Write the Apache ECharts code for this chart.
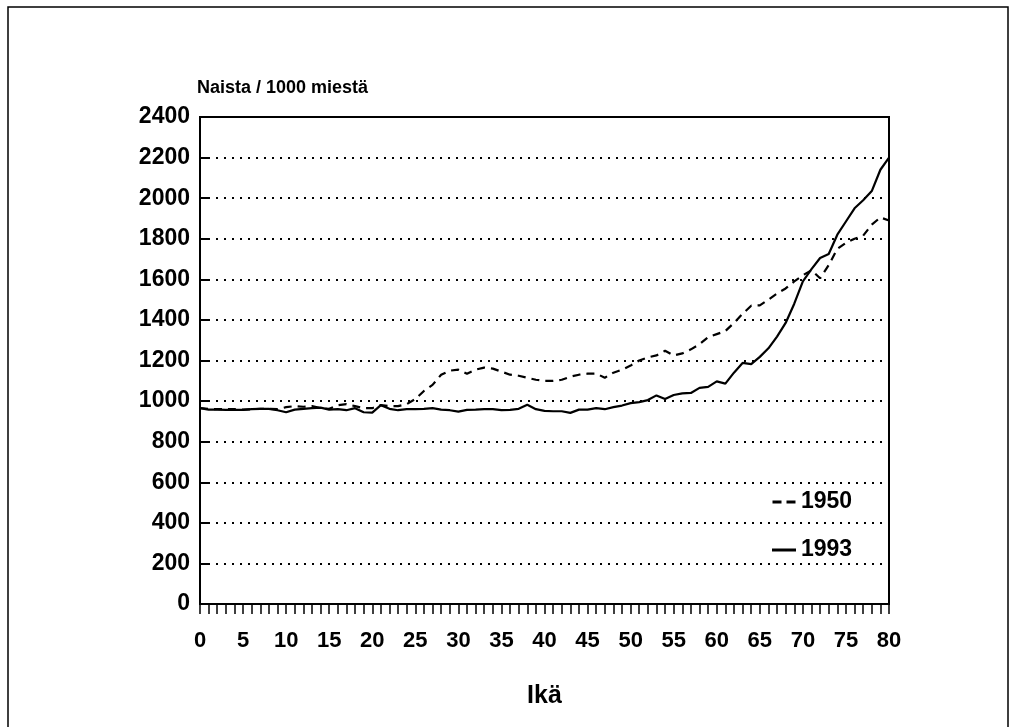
<!DOCTYPE html>
<html lang="fi" style="height: 100%">
<head>
    <meta charset="UTF-8">
    <script src="https://cdn.jsdelivr.net/npm/echarts@6/dist/echarts.min.js"></script>
</head>
<body style="height: 100%; margin: 0; background: #fff">
<div id="container" style="position: absolute; width: 1018px; height: 727px"></div>
<script>
    // ikä 0..80
    var ages = [];
    for (var i = 0; i <= 80; i++) ages.push(i);

    var years = ['1950', '1993'];

    // naisia / 1000 miestä, 1950
    var v1950 = [
        965, 962, 960, 960, 960, 958, 960, 962, 962, 960,
        970, 975, 972, 975, 965, 962, 980, 985, 975, 965,
        965, 980, 975, 975, 985, 1010, 1050, 1080, 1130, 1150,
        1155, 1135, 1155, 1165, 1160, 1145, 1130, 1125, 1115, 1105,
        1100, 1100, 1105, 1120, 1130, 1135, 1136, 1115, 1140, 1155,
        1175, 1200, 1215, 1225, 1248, 1225, 1235, 1255, 1280, 1315,
        1330, 1345, 1385, 1430, 1470, 1472, 1500, 1530, 1555, 1590,
        1620, 1645, 1605, 1670, 1750, 1780, 1800, 1815, 1870, 1905,
        1890
    ];
    // naisia / 1000 miestä, 1993
    var v1993 = [
        965, 958, 958, 957, 957, 957, 960, 962, 962, 955,
        945, 958, 962, 965, 968, 958, 960, 955, 965, 945,
        943, 980, 962, 955, 960, 960, 962, 965, 958, 955,
        948, 957, 958, 960, 960, 955, 957, 962, 982, 960,
        952, 950, 950, 942, 958, 958, 965, 960, 970, 978,
        990, 995, 1005, 1028, 1010, 1030, 1038, 1040, 1065, 1070,
        1097, 1086, 1140, 1188, 1182, 1218, 1260, 1318, 1385, 1480,
        1590, 1650, 1705, 1725, 1820, 1885, 1950, 1990, 2035, 2140,
        2200
    ];

    function pairs(vals) {
        return ages.map(function (a, k) { return [a, vals[k]]; });
    }

    var font = '"Liberation Sans", Arial, sans-serif';
    var myChart = echarts.init(document.getElementById('container'), null, {renderer: 'canvas'});

    var option = {
        backgroundColor: '#fff',
        animation: false,
        textStyle: {fontFamily: font, color: '#000'},
        graphic: [{
            type: 'rect',
            shape: {x: 8, y: 7, width: 1000, height: 760},
            style: {fill: 'none', stroke: '#000', lineWidth: 1.5},
            z: -1
        }],
        grid: {
            left: 200, right: 129, top: 117, bottom: 123,
            show: true, borderColor: '#000', borderWidth: 2
        },
        legend: {
            orient: 'vertical',
            left: 767, top: 484,
            itemWidth: 24, itemHeight: 3, itemGap: 22,
            data: [
                {name: years[0], icon: 'path://M0,0H9V3H0Z M14,0H23V3H14Z'},
                {name: years[1], icon: 'path://M0,0H24V3H0Z'}
            ],
            textStyle: {fontFamily: font, fontSize: 23, fontWeight: 'bold', color: '#000', lineHeight: 26}
        },
        xAxis: {
            type: 'value',
            min: 0, max: 80, interval: 5,
            name: 'Ikä',
            nameLocation: 'middle',
            nameGap: 80,
            nameTextStyle: {fontFamily: font, fontSize: 25, fontWeight: 'bold', color: '#000'},
            axisLine: {lineStyle: {color: '#000', width: 2}},
            axisTick: {show: true, length: 10, lineStyle: {color: '#000', width: 1.5}},
            minorTick: {show: true, splitNumber: 5, length: 10, lineStyle: {color: '#000', width: 1.5}},
            axisLabel: {fontFamily: font, fontSize: 22, fontWeight: 'bold', color: '#000', margin: 26},
            splitLine: {show: false}
        },
        yAxis: {
            type: 'value',
            min: 0, max: 2400, interval: 200,
            name: 'Naista / 1000 miestä',
            nameLocation: 'end',
            nameGap: 20,
            nameTextStyle: {fontFamily: font, fontSize: 18, fontWeight: 'bold', color: '#000', align: 'left', padding: [0, 0, 0, -3]},
            axisLine: {lineStyle: {color: '#000', width: 2}},
            axisTick: {show: true, inside: true, length: 8, lineStyle: {color: '#000', width: 2}},
            axisLabel: {
                fontFamily: font, fontSize: 23, fontWeight: 'bold', color: '#000', margin: 10,
                formatter: function (v) { return String(v); }
            },
            splitLine: {show: true, lineStyle: {color: '#000', width: 2, type: [2, 6]}}
        },
        series: [
            {
                name: years[0],
                type: 'line',
                symbol: 'none',
                data: pairs(v1950),
                lineStyle: {color: '#000', width: 2.2, type: [8, 6]},
                itemStyle: {color: '#000'}
            },
            {
                name: years[1],
                type: 'line',
                symbol: 'none',
                data: pairs(v1993),
                lineStyle: {color: '#000', width: 2.2},
                itemStyle: {color: '#000'}
            }
        ]
    };
    myChart.setOption(option);
</script>
</body>
</html>
